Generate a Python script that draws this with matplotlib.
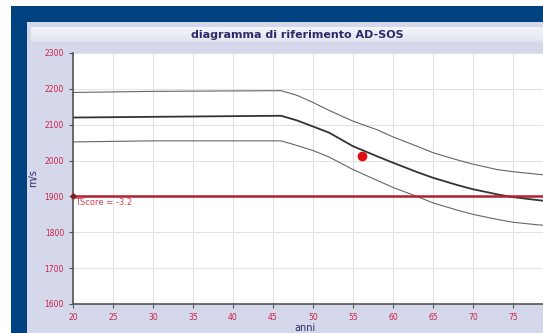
import numpy as np
import matplotlib
matplotlib.use('Agg')
import matplotlib.pyplot as plt
from matplotlib.patches import Rectangle

# Reference curves (age in years, speed of sound m/s)
ages = [20, 30, 46, 48, 50, 52, 55, 58, 60, 63, 65, 68, 70, 73, 75, 78, 80]
upper = [2190, 2193, 2195, 2182, 2162, 2140, 2110, 2086, 2066, 2040, 2022, 2002, 1990, 1975, 1969, 1962, 1958]
middle = [2120, 2122, 2125, 2112, 2095, 2078, 2040, 2012, 1994, 1968, 1952, 1932, 1920, 1906, 1898, 1890, 1885]
lower = [2052, 2055, 2055, 2042, 2028, 2010, 1975, 1945, 1925, 1900, 1882, 1862, 1850, 1836, 1828, 1821, 1818]

patient_age = [56.1]
patient_sos = [2013]

tscore_level = 1900
tscore_text = "TScore = -3.2"

x_ticks = [20, 25, 30, 35, 40, 45, 50, 55, 60, 65, 70, 75]
y_ticks = [1600, 1700, 1800, 1900, 2000, 2100, 2200, 2300]

W, H = 543, 333
fig = plt.figure(figsize=(W / 100, H / 100), dpi=100)
fig.patch.set_facecolor('white')


def px_rect(x0, y0, x1, y1, color):
    # rectangle given in pixel coords (origin top-left)
    fig.patches.append(Rectangle((x0 / W, 1 - y1 / H), (x1 - x0) / W, (y1 - y0) / H,
                                 transform=fig.transFigure, facecolor=color,
                                 edgecolor='none', zorder=-10))


px_rect(11, 6, W, H, '#00427f')
px_rect(27, 22, W, H, '#d5d8ea')

# title bar with light gradient
tax = fig.add_axes([31 / W, 1 - 42 / H, (W - 31) / W, 15 / H])
grad = np.linspace(0, 1, 50).reshape(-1, 1)
tax.imshow(grad, aspect='auto', cmap=matplotlib.colors.LinearSegmentedColormap.from_list(
    'tb', ['#f4f5fa', '#e2e4f0']), extent=[0, 1, 0, 1])
tax.axis('off')
tax.text(0.52, 0.5, "diagramma di riferimento AD-SOS", ha='center', va='center',
         fontsize=8, fontweight='bold', color='#2b2b6b', transform=tax.transAxes)

ax = fig.add_axes([73 / W, 1 - 304 / H, (W - 73) / W, (304 - 53) / H])
ax.set_facecolor('white')

ax.plot(ages, upper, color='#666666', lw=0.8)
ax.plot(ages, middle, color='#333333', lw=1.3)
ax.plot(ages, lower, color='#666666', lw=0.8)

ax.axhline(tscore_level, color='#b02030', lw=1.8, zorder=3)
ax.plot([20], [tscore_level], 'o', color='#802020', ms=3, zorder=4, clip_on=False)
ax.text(20.3, tscore_level - 5, tscore_text, color='#d04050', fontsize=6,
        ha='left', va='top')

ax.plot(patient_age, patient_sos, 'o', color='#e01010', ms=6, zorder=5)

ax.set_xlim(20, 78.75)
ax.set_ylim(1600, 2300)
ax.set_xticks(x_ticks)
ax.set_yticks(y_ticks)
ax.grid(True, color='#e2e2e2', lw=0.8)
ax.set_axisbelow(True)

ax.tick_params(colors='#555555', labelcolor='#d0204a', labelsize=5.5, length=3, width=0.8)
for s in ['top', 'right']:
    ax.spines[s].set_visible(False)
ax.spines['left'].set_color('#555555')
ax.spines['bottom'].set_color('#555555')
ax.spines['left'].set_linewidth(1.2)
ax.spines['bottom'].set_linewidth(1.2)

ax.set_ylabel("m/s", color='#2b2b6b', fontsize=7)
ax.yaxis.set_label_coords((38 - 73) / (W - 73), 0.5)
ax.set_xlabel("anni", color='#2b2b6b', fontsize=7)
ax.xaxis.set_label_coords((305 - 73) / (W - 73), -0.075)

fig.savefig('out.png', dpi=100)
